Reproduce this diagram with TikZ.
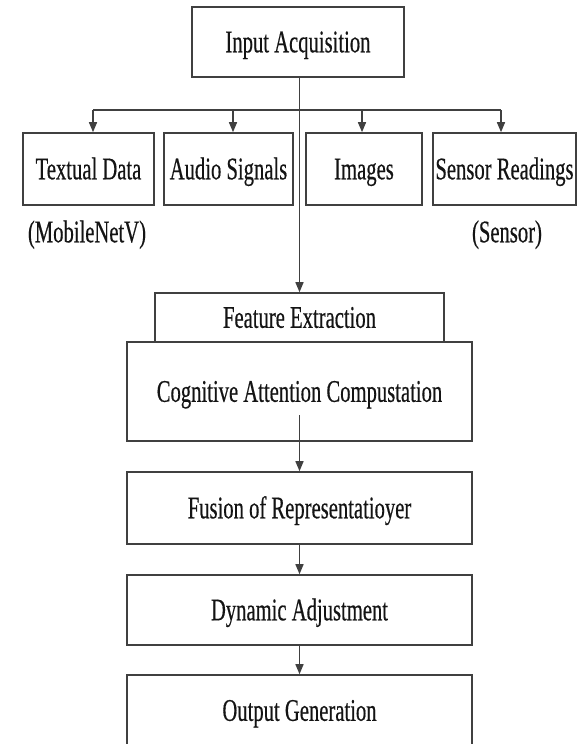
\documentclass[tikz,border=0pt]{standalone}
\usepackage{fontspec}
\setmainfont{Liberation Serif}[FakeStretch=0.655, FakeBold=0.4]
\usetikzlibrary{arrows.meta}
\begin{document}
\begin{tikzpicture}[x=1pt,y=-1pt,
  txt/.style={inner sep=0pt, text=black!92,
    font=\fontsize{31.5}{36}\selectfont, text height=20.6pt, text depth=0pt},
  box/.style={txt, draw=black!75, line width=1.6pt},
  ln/.style={draw=black!75, line width=1.5pt},
  arr/.style={ln, -{Triangle[length=10pt,width=8pt]}}]
% canvas
\fill[white] (0,0) rectangle (577,744);
\useasboundingbox (0,0) rectangle (577,744);

% top box
\node[box, minimum width=212pt, minimum height=70pt] (inp) at (298,42) {Input Acquisition};

% input sources
\node[box, minimum width=131pt, minimum height=72pt] (td) at (88.5,169) {Textual Data};
\node[box, minimum width=129pt, minimum height=72pt] (au) at (228.5,169) {Audio Signals};
\node[box, minimum width=116pt, minimum height=72pt] (im) at (364,169) {Images};
\node[box, minimum width=143pt, minimum height=72pt] (se) at (504.5,169) {Sensor Readings};

\node[txt] (tdl) at (87,232) {(MobileNetV)};
\node[txt] (sel) at (507,232) {(Sensor)};

% processing chain
\node[box, minimum width=289pt, minimum height=49pt] (fe) at (299.5,317.5) {Feature Extraction};
\node[box, minimum width=345pt, minimum height=99pt] (cog) at (299.5,391.5) {Cognitive Attention Compustation};
\node[box, minimum width=345pt, minimum height=72pt] (fus) at (299.5,508) {Fusion of Representatioyer};
\node[box, minimum width=345pt, minimum height=70pt] (dyn) at (299.5,610) {Dynamic Adjustment};
\node[box, minimum width=345pt, minimum height=71pt] (out) at (299.5,710.5) {Output Generation};

% distribution bus
\coordinate (b1) at (93,110);
\coordinate (b2) at (233,110);
\coordinate (b3) at (362,110);
\coordinate (b4) at (501,110);
\draw[ln] (b1) -- (b4);
\draw[arr] (b1) -- (b1 |- td.north);
\draw[arr] (b2) -- (b2 |- au.north);
\draw[arr] (b3) -- (b3 |- im.north);
\draw[arr] (b4) -- (b4 |- se.north);

% main flow
\draw[arr] (inp.south -| fe.north) -- (fe.north);
\coordinate (cogA) at (299.5,415);
\draw[arr] (cogA) -- (fus.north);
\draw[arr] (fus.south) -- (dyn.north);
\draw[arr] (dyn.south) -- (out.north);
\end{tikzpicture}
\end{document}
